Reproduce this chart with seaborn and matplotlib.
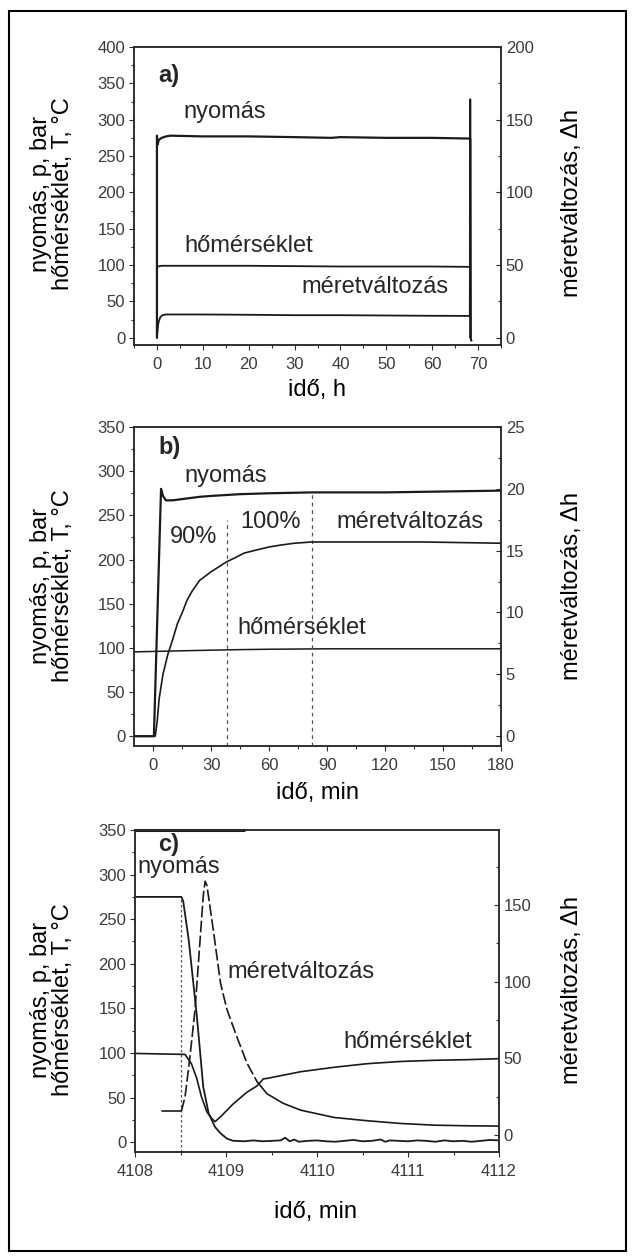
import matplotlib
matplotlib.use('Agg')
import matplotlib.pyplot as plt
from matplotlib.ticker import MultipleLocator
from matplotlib.patches import Rectangle
import pandas as pd
import seaborn as sns

# ── Style ────────────────────────────────────
sns.set_style('ticks')
plt.rcParams['font.family'] = ['Liberation Sans', 'DejaVu Sans']

LINE = '#1a1a1a'
SPINE = '#2a2a2a'
TICK_TXT = '#3a3a3a'
TICK_FONT = ['Liberation Sans Narrow', 'Liberation Sans', 'DejaVu Sans']
TXT = 17

W, H = 634, 1256

# ── a) 70 h run ──────────────────────────────
a_xticks = [0, 10, 20, 30, 40, 50, 60, 70]
a_yticks = [0, 50, 100, 150, 200, 250, 300, 350, 400]
a_rticks = [0, 50, 100, 150, 200]

a_p_t = [0, 0, 0.15, 0.4, 1, 2, 3, 10, 20, 30, 38, 40, 50, 60, 68.3, 68.3]
a_p = [0, 278, 266, 272, 275, 277, 278, 277, 277, 276, 275, 276, 275, 275, 274, 0]

a_T_t = [0.2, 1, 10, 20, 30, 40, 50, 60, 68.3]
a_T = [98, 99, 99, 99, 98.5, 98, 98, 98, 97.5]

a_dh_t = [0, 0.3, 0.7, 1.2, 2, 10, 20, 30, 40, 50, 60, 68.2, 68.3, 68.45, 68.6]
a_dh = [0, 10, 14, 15.5, 16, 16, 15.8, 15.5, 15.5, 15.3, 15.1, 15, 164, -2, -2]

# ── b) first 180 min ─────────────────────────
b_xticks = [0, 30, 60, 90, 120, 150, 180]
b_yticks = [0, 50, 100, 150, 200, 250, 300, 350]
b_rticks = [0, 5, 10, 15, 20, 25]

b_p_t = [-10, 0.3, 4, 5, 6.5, 10, 24, 30, 45, 60, 82, 120, 150, 180]
b_p = [0, 0, 280, 272, 267, 267, 271, 272, 274, 275, 276, 276, 277, 278]

b_T_t = [-10, 0, 20, 43, 60, 90, 120, 180]
b_T = [95.5, 96, 97, 98, 98.5, 99, 99, 99]

b_dh_t = [-10, 1, 2, 3, 5, 7.5, 10, 12.5, 15, 17.5, 20, 24, 30, 35, 38, 42, 47, 52,
          60, 66, 73, 82, 100, 140, 180]
b_dh = [0, 0, 1.2, 3.0, 5.0, 6.6, 7.8, 9.1, 10.0, 11.0, 11.7, 12.6, 13.3, 13.8, 14.1,
        14.4, 14.8, 15.0, 15.3, 15.45, 15.6, 15.7, 15.7, 15.7, 15.6]

b_mark_t = [38, 82]
b_mark_top = [245, 276]

# ── c) decompression ─────────────────────────
c_xticks = [4108, 4109, 4110, 4111, 4112]
c_yticks = [0, 50, 100, 150, 200, 250, 300, 350]
c_rticks = [0, 50, 100, 150]

c_p_t = [4108, 4108.51, 4108.53, 4108.59, 4108.68, 4108.75, 4108.81, 4108.88, 4108.94,
         4109.01, 4109.08, 4109.1, 4109.2, 4109.3, 4109.4, 4109.5, 4109.6, 4109.65,
         4109.7, 4109.75, 4109.8, 4109.9, 4110.0, 4110.1, 4110.2, 4110.3, 4110.4,
         4110.5, 4110.6, 4110.7, 4110.75, 4110.8, 4110.9, 4111.0, 4111.1, 4111.2,
         4111.3, 4111.4, 4111.5, 4111.6, 4111.7, 4111.8, 4111.9, 4112.0]
c_p = [275, 275, 270, 227, 141, 62, 32, 17, 10,
       4, 1.5, 1.5, 1, 2, 1, 1.5, 2, 5,
       1, 3, 0.5, 1.5, 2, 1, 0.5, 1.5, 2.5,
       1, 1.5, 3, 0.5, 2, 1.5, 1, 2, 1.5,
       0.5, 2, 1, 1.5, 0.5, 1.5, 2.5, 2]

c_T_t = [4108, 4108.55, 4108.62, 4108.68, 4108.73, 4108.79, 4108.84, 4108.88, 4108.94,
         4109.08, 4109.23, 4109.34, 4109.41, 4109.45, 4109.82, 4110.19, 4110.55,
         4110.92, 4111.29, 4111.65, 4112]
c_T = [99.5, 98.4, 88, 71, 51, 34, 27, 23, 28.5,
       43, 56, 63, 71, 71.5, 79, 84, 88,
       90.5, 91.8, 92.5, 93.6]

c_dh_t = [4108.3, 4108.51, 4108.55, 4108.6, 4108.66, 4108.71, 4108.75, 4108.77, 4108.79,
          4108.86, 4108.94, 4109.01, 4109.12, 4109.23, 4109.34, 4109.45, 4109.63,
          4109.82, 4110.19, 4110.55, 4110.92, 4111.29, 4111.65, 4112]
c_dh = [15.7, 15.7, 25, 49, 82, 123, 156, 165.6, 163,
        134, 99, 82, 64, 47, 35, 27, 20.7,
        16.3, 11.5, 9.4, 7.6, 6.5, 6.1, 5.9]

c_mark_t = [4108.5]
c_mark_top = [275]


# ── Helpers ──────────────────────────────────
fig = plt.figure(figsize=(W / 100, H / 100), dpi=100)
fig.patch.set_facecolor('white')


def px_axes(l, t, r, b):
    return fig.add_axes([l / W, 1 - b / H, (r - l) / W, (b - t) / H])


def line(ax, x, y, lw=1.1, ls='-'):
    sns.lineplot(x=x, y=y, ax=ax, color=LINE, linewidth=lw, linestyle=ls,
                 sort=False, estimator=None)


def style(ax, ax2, xticks, xminor, yticks, yminor, rticks, rminor, xlim, ylim, rlim):
    ax.set_xlim(*xlim)
    ax.set_ylim(*ylim)
    ax2.set_ylim(*rlim)
    ax.set_xticks(xticks)
    ax.set_yticks(yticks)
    ax2.set_yticks(rticks)
    ax.xaxis.set_minor_locator(MultipleLocator(xminor))
    ax.yaxis.set_minor_locator(MultipleLocator(yminor))
    ax2.yaxis.set_minor_locator(MultipleLocator(rminor))
    ax.set_xlabel('')
    ax.set_ylabel('')
    ax2.set_ylabel('')
    for a in (ax, ax2):
        for s in a.spines.values():
            s.set_visible(True)
            s.set_color(SPINE)
            s.set_linewidth(1.1)
    ax.tick_params(axis='both', which='both', direction='out', color=SPINE,
                   labelcolor=TICK_TXT, labelsize=12, width=0.8)
    ax.tick_params(which='major', length=3.8)
    ax.tick_params(which='minor', length=2.2)
    ax.tick_params(axis='x', pad=5)
    ax.tick_params(axis='y', pad=2.5)
    ax2.tick_params(axis='y', which='both', direction='in', color=SPINE,
                    labelcolor=TICK_TXT, labelsize=12, width=0.8, pad=3.5)
    ax2.tick_params(axis='y', which='major', length=3.8)
    ax2.tick_params(axis='y', which='minor', length=2.2)
    plt.setp(ax.get_xticklabels() + ax.get_yticklabels() + ax2.get_yticklabels(),
             family=TICK_FONT)


def side_labels(yl, yr, xlab_y, xlab, xlab_x=317):
    fig.text(52 / W, 1 - yl / H, 'nyomás, p, bar\nhőmérséklet, T, °C', rotation=90,
             ha='center', va='center', fontsize=TXT, linespacing=1.05,
             multialignment='center', color='black')
    fig.text(572 / W, 1 - yr / H, 'méretváltozás, Δh', rotation=90,
             ha='center', va='center', fontsize=TXT, color='black')
    fig.text(xlab_x / W, 1 - xlab_y / H, xlab, ha='center', va='center',
             fontsize=TXT, color='black')


# ── Panel a ──────────────────────────────────
ax = px_axes(134, 47, 501, 345)
ax2 = ax.twinx()
line(ax, a_p_t, a_p, lw=1.6)
line(ax, a_T_t, a_T, lw=1.3)
line(ax2, a_dh_t, a_dh, lw=1.3)
style(ax, ax2, a_xticks, 5, a_yticks, 25, a_rticks, 25, (-5, 75), (-10, 400), (-5, 200))
ax.text(0.2, 361, 'a)', fontsize=TXT, fontweight='bold', va='center')
ax.text(5.7, 310, 'nyomás', fontsize=TXT, va='center')
ax.text(5.9, 126, 'hőmérséklet', fontsize=TXT, va='center')
ax.text(31.4, 70, 'méretváltozás', fontsize=TXT, va='center')
side_labels(194, 203, 390, 'idő, h')

# ── Panel b ──────────────────────────────────
ax = px_axes(134, 427, 501, 746)
ax2 = ax.twinx()
line(ax, b_p_t, b_p, lw=1.6)
line(ax, b_T_t, b_T, lw=1.1)
line(ax2, b_dh_t, b_dh, lw=1.2)
style(ax, ax2, b_xticks, 15, b_yticks, 25, b_rticks, 2.5, (-10, 180), (-11, 350), (-0.8, 25))
ax.vlines(b_mark_t, ax.get_ylim()[0], b_mark_top, colors='#555555',
          linestyles=(0, (3, 3)), linewidth=0.9)
ax.text(2.6, 327, 'b)', fontsize=TXT, fontweight='bold', va='center')
ax.text(16, 294, 'nyomás', fontsize=TXT, va='center')
ax.text(8.8, 226, '90%', fontsize=TXT, va='center')
ax.text(45, 242, '100%', fontsize=TXT, va='center')
ax.text(95, 242, 'méretváltozás', fontsize=TXT, va='center')
ax.text(43.5, 123, 'hőmérséklet', fontsize=TXT, va='center')
side_labels(586, 586, 793, 'idő, min')

# ── Panel c ──────────────────────────────────
ax = px_axes(135, 830, 499, 1152)
ax2 = ax.twinx()
line(ax, c_p_t, c_p, lw=1.3)
line(ax, c_T_t, c_T, lw=1.2)
dh = pd.DataFrame({'t': c_dh_t, 'v': c_dh})
pre = dh[dh['t'] <= 4108.51]
mid = dh[(dh['t'] >= 4108.51) & (dh['t'] <= 4109.34)]
post = dh[dh['t'] >= 4109.34]
line(ax2, pre['t'].tolist(), pre['v'].tolist(), lw=1.2)
line(ax2, mid['t'].tolist(), mid['v'].tolist(), lw=1.2, ls=(0, (7, 2)))
line(ax2, post['t'].tolist(), post['v'].tolist(), lw=1.2)
style(ax, ax2, c_xticks, 0.5, c_yticks, 25, c_rticks, 25, (4108, 4112), (-11, 350), (-11, 199))
ax.vlines(c_mark_t, ax.get_ylim()[0], c_mark_top, colors='#555555',
          linestyles=(0, (2, 2)), linewidth=0.9)
ax.plot([0, 0.3], [1, 1], transform=ax.transAxes, color=LINE, lw=2.2, clip_on=False)
ax.text(4108.25, 334, 'c)', fontsize=TXT, fontweight='bold', va='center')
ax.text(4108.03, 308, 'nyomás', fontsize=TXT, va='center')
ax.text(4109.02, 191, 'méretváltozás', fontsize=TXT, va='center')
ax.text(4110.29, 112, 'hőmérséklet', fontsize=TXT, va='center')
side_labels(1000, 990, 1212, 'idő, min', xlab_x=315)

# ── Outer frame ──────────────────────────────
fig.patches.append(Rectangle((9 / W, 5 / H), 617 / W, (1251 - 11) / H,
                             transform=fig.transFigure, fill=False,
                             edgecolor='black', linewidth=1.5))

fig.savefig('out.png', dpi=100, facecolor='white')
plt.close(fig)
